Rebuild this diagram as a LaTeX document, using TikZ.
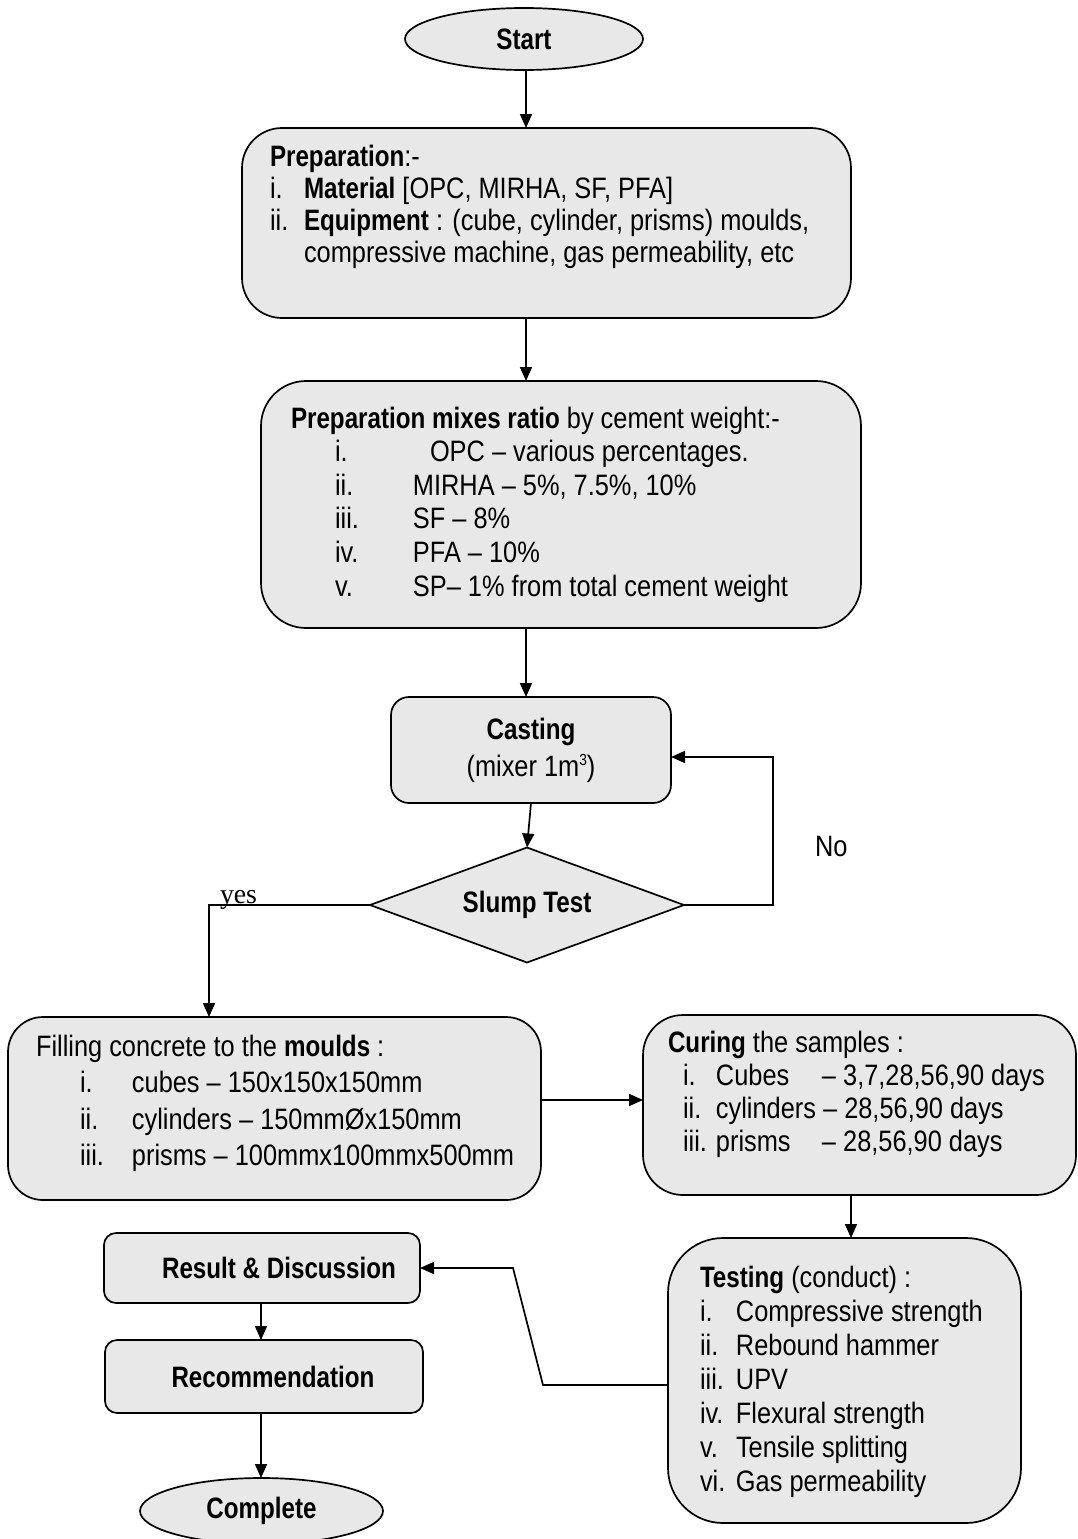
\documentclass[tikz,border=0pt]{standalone}
\usepackage{fontspec}
\setmainfont{Liberation Sans}[FakeStretch=0.86,BoldFeatures={FakeStretch=0.82}]
\newfontfamily\yesfont{Liberation Serif}
\usetikzlibrary{shapes.geometric,arrows.meta,calc}
\definecolor{boxfill}{RGB}{232,232,232}
\newcommand{\supthree}{\raisebox{11pt}{\fontsize{16}{16}\selectfont 3}}
\begin{document}
\begin{tikzpicture}[x=1pt,y=-1pt,
  box/.style={draw,line width=1.7pt,fill=boxfill,rectangle,inner sep=0pt,outer sep=0pt},
  txt/.style={inner sep=0pt,outer sep=0pt,anchor=base west,align=left},
  arr/.style={line width=1.7pt,-{Triangle[length=14pt,width=12pt]}},
  bf/.style={font={\fontsize{29.5}{#1}\selectfont}},
  bb/.style={font={\fontsize{29.5}{#1}\selectfont\bfseries}}]
\fill[white] (0,0) rectangle (1078,1539);
\useasboundingbox (0,0) rectangle (1078,1539);

% ---------- nodes ----------
\node[box,ellipse,minimum width=238pt,minimum height=62pt,bb=34] (start) at (524,39) {Start};

\node[box,rounded corners=40pt,minimum width=609pt,minimum height=190pt] (prep) at (546.5,223) {};
\node[txt,bf=32] (prepT) at (270,166) {\begin{tabular}[t]{@{}p{34pt}@{}l@{}}
\multicolumn{2}{@{}l@{}}{\textbf{Preparation}:-}\\
i. & \textbf{Material} [OPC, MIRHA, SF, PFA]\\
ii. & \textbf{Equipment} : (cube, cylinder, prisms) moulds,\\
 & compressive machine, gas permeability, etc
\end{tabular}};

\node[box,rounded corners=45pt,minimum width=600pt,minimum height=247pt] (mix) at (561,504.5) {};
\node[txt,bf=33.6] (mixT) at (291,428) {\begin{tabular}[t]{@{}p{44pt}@{}p{78pt}@{}l@{}}
\multicolumn{3}{@{}l@{}}{\textbf{Preparation mixes ratio} by cement weight:-}\\
 & i. & \hspace*{17pt}OPC – various percentages.\\
 & ii. & MIRHA – 5\%, 7.5\%, 10\%\\
 & iii. & SF – 8\%\\
 & iv. & PFA – 10\%\\
 & v. & SP– 1\% from total cement weight
\end{tabular}};

\node[box,rounded corners=18pt,minimum width=280pt,minimum height=106pt,bf=37,align=center] (cast) at (531,750) {\textbf{Casting}\\(mixer 1m\supthree)};

\node[box,diamond,aspect=2.73,minimum width=314pt,minimum height=115pt,bb=34] (dia) at (527,905) {Slump Test};

\node[box,rounded corners=35pt,minimum width=533pt,minimum height=183pt] (fill) at (274.5,1108.5) {};
\node[txt,bf=36.5] (fillT) at (36,1056) {\begin{tabular}[t]{@{}p{44pt}@{}p{52pt}@{}l@{}}
\multicolumn{3}{@{}l@{}}{Filling concrete to the \textbf{moulds} :}\\
 & i. & cubes – 150x150x150mm\\
 & ii. & cylinders – 150mmØx150mm\\
 & iii. & prisms – 100mmx100mmx500mm
\end{tabular}};

\node[box,rounded corners=40pt,minimum width=433pt,minimum height=180pt] (cure) at (859.5,1105) {};
\node[txt,bf=33] (cureT) at (668,1052) {\begin{tabular}[t]{@{}p{15pt}@{}p{33pt}@{}p{106pt}@{}l@{}}
\multicolumn{4}{@{}l@{}}{\textbf{Curing} the samples :}\\
 & i. & Cubes & – 3,7,28,56,90 days\\
 & ii. & \multicolumn{2}{@{}l@{}}{cylinders – 28,56,90 days}\\
 & iii. & prisms & – 28,56,90 days
\end{tabular}};

\node[box,rounded corners=55pt,minimum width=353pt,minimum height=285pt] (test) at (844.5,1380.5) {};
\node[txt,bf=34] (testT) at (700,1287) {\begin{tabular}[t]{@{}p{36pt}@{}l@{}}
\multicolumn{2}{@{}l@{}}{\textbf{Testing} (conduct) :}\\
i. & Compressive strength\\
ii. & Rebound hammer\\
iii. & UPV\\
iv. & Flexural strength\\
v. & Tensile splitting\\
vi. & Gas permeability
\end{tabular}};

\node[box,rounded corners=12pt,minimum width=316pt,minimum height=70pt,bb=34] (res) at (262,1268) {\hspace*{34pt}Result \& Discussion};
\node[box,rounded corners=12pt,minimum width=318pt,minimum height=73pt,bb=34] (rec) at (264,1376.5) {\hspace*{18pt}Recommendation};
\node[box,ellipse,minimum width=243pt,minimum height=66pt,bb=34] (comp) at (261.5,1511) {Complete};

\node[txt,font={\yesfont\fontsize{27.8}{30}\selectfont}] (yes) at (220,903) {yes};
\node[txt,bf=34] (no) at (815,856) {No};

% ---------- coordinates ----------
\coordinate (cx1) at (526,0);
\coordinate (cx2) at (851,0);
\coordinate (cx3) at (261,0);
\coordinate (n1) at (773,905);
\coordinate (n2) at (773,757);
\coordinate (y1) at (209,905);
\coordinate (fc) at (0,1100);
\coordinate (t1) at (543,1385);
\coordinate (t2) at (513,1268);

% ---------- connectors ----------
\draw[arr] (start.south -| cx1) -- (prep.north -| cx1);
\draw[arr] (prep.south -| cx1) -- (mix.north -| cx1);
\draw[arr] (mix.south -| cx1) -- (cast.north -| cx1);
\draw[arr] (cast.south) -- (dia.north);
\draw[arr] (dia.east) -- (n1) -- (n2) -- (cast.east |- n2);
\draw[arr] (dia.west) -- (y1) -- (y1 |- fill.north);
\draw[arr] (fill.east |- fc) -- (cure.west |- fc);
\draw[arr] (cure.south -| cx2) -- (test.north -| cx2);
\draw[arr] (test.west |- t1) -- (t1) -- (t2) -- (res.east |- t2);
\draw[arr] (res.south -| cx3) -- (rec.north -| cx3);
\draw[arr] (rec.south -| cx3) -- (comp.north -| cx3);
\end{tikzpicture}
\end{document}
